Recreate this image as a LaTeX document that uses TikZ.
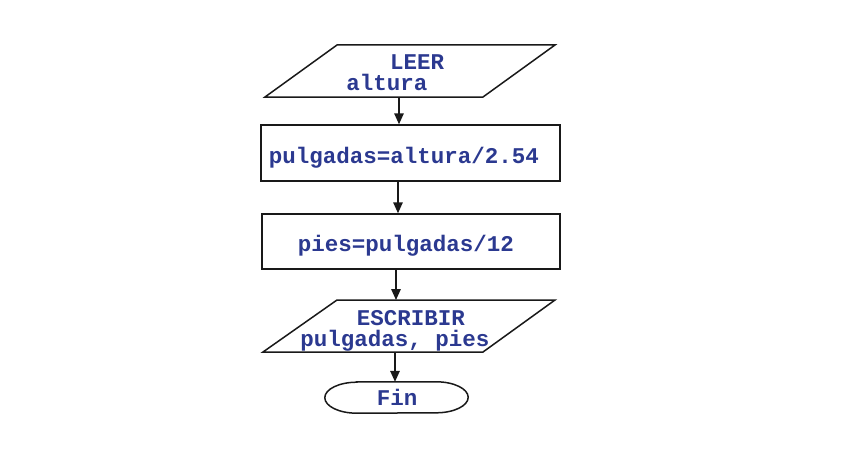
\documentclass[tikz,border=0pt]{standalone}
\usepackage{fontspec}
\setmonofont{Liberation Mono}
\usetikzlibrary{arrows.meta}
\definecolor{txtblue}{RGB}{43,57,144}
\tikzset{
  shapeline/.style={draw=black!90, line width=1.5pt},
  lbl/.style={anchor=base, inner sep=0pt, text=txtblue, font=\fontsize{22.5}{26}\selectfont\ttfamily\bfseries},
  procbox/.style={shapeline, minimum width=#1, minimum height=56pt, inner sep=0pt},
  arr/.style={draw=black!90, line width=1.5pt, -{Triangle[length=11pt,width=9.5pt]}}
}
\begin{document}
\begin{tikzpicture}[x=1pt,y=-1pt]
\useasboundingbox (0,0) rectangle (846,452);
% input parallelogram
\draw[shapeline, line join=miter] (337,45) -- (555,45) -- (483,97) -- (265,97) -- cycle;
\node[lbl] (leer) at (417,69.3) {LEER};
\node[lbl] (altura) at (387,90) {altura};
\coordinate (in1) at (399,97);
% process 1
\node[procbox=299pt] (p1) at (410.5,153) {};
\node[lbl] (t1) at (404,163.3) {pulgadas=altura/2.54};
% process 2
\node[procbox=298pt, minimum height=55pt] (p2) at (411,241.5) {};
\node[lbl] (t2) at (406,251.7) {pies=pulgadas/12};
% output parallelogram
\draw[shapeline] (337,300) -- (555,300) -- (483,352) -- (263,352) -- cycle;
\coordinate (out1) at (396,300);
\coordinate (out2) at (395,352);
\node[lbl] (escr) at (411,325.7) {ESCRIBIR};
\node[lbl] (vars) at (395,346.7) {pulgadas, pies};
% terminal
\node[minimum width=143pt, minimum height=31pt, inner sep=0pt] (fin) at (396.5,397.5) {};
\draw[shapeline] ([xshift=32pt]fin.north west) -- ([xshift=-32pt]fin.north east)
  arc[start angle=90, end angle=-90, x radius=32pt, y radius=15.5pt]
  -- ([xshift=32pt]fin.south west)
  arc[start angle=270, end angle=90, x radius=32pt, y radius=15.5pt] -- cycle;
\node[lbl] (fintxt) at (397,405) {Fin};
% connectors
\draw[arr] (in1) -- (in1 |- p1.north);
\draw[arr] (p1.south -| 398,0) -- (p2.north -| 398,0);
\draw[arr] (p2.south -| out1) -- (out1);
\draw[arr] (out2) -- (out2 |- fin.north);
\end{tikzpicture}
\end{document}
